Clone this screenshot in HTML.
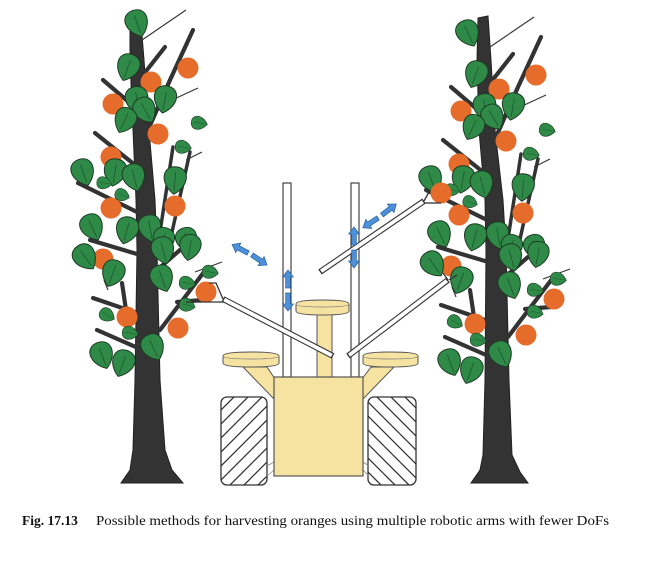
<!DOCTYPE html>
<html>
<head>
<meta charset="utf-8">
<style>
html,body{margin:0;padding:0;background:#fff;}
svg{display:block;}
</style>
</head>
<body>
<svg width="656" height="562" viewBox="0 0 656 562" xmlns="http://www.w3.org/2000/svg">
<defs>
  <g id="lf">
    <path d="M0,13 C-14,4 -13,-12 0,-12 C13,-12 14,4 0,13 Z" fill="#2f8a47" stroke="#1c3a24" stroke-width="0.9"/>
    <path d="M0,-7 L0,10" stroke="#1f5a30" stroke-width="0.8" fill="none"/>
  </g>
  <g id="crown">
    <g stroke="#333" stroke-width="4.2" stroke-linecap="round" fill="none">
      <path d="M148,130 L170,80 L193,30"/>
      <path d="M143,75 L165,47"/>
      <path d="M103,80 L138,110"/>
      <path d="M95,133 L135,165"/>
      <path d="M173,147 L160,232" stroke-width="3.5"/>
      <path d="M190,152 L172,232" stroke-width="3.5"/>
      <path d="M78,183 L137,212"/>
      <path d="M90,240 L137,254"/>
      <path d="M157,270 L180,250"/>
      <path d="M93,298 L137,313"/>
      <path d="M122,283 L126,310"/>
      <path d="M97,330 L138,348"/>
      <path d="M160,330 L207,268"/>
      <path d="M177,302 L203,300"/>
    </g>
    <g stroke="#333" stroke-width="1.1" fill="none">
      <path d="M142,40 L186,10"/>
      <path d="M172,100 L198,88"/>
      <path d="M186,160 L202,152"/>
      <path d="M108,290 L104,280"/>
      <path d="M195,272 L222,262"/>
    </g>
    <g fill="#e66c2b">
      <circle cx="188" cy="68" r="10.5"/>
      <circle cx="151" cy="82" r="10.5"/>
      <circle cx="113" cy="104" r="10.5"/>
      <circle cx="158" cy="134" r="10.5"/>
      <circle cx="111" cy="157" r="10.5"/>
      <circle cx="111" cy="208" r="10.5"/>
      <circle cx="175" cy="206" r="10.5"/>
      <circle cx="103" cy="259" r="10.5"/>
      <circle cx="127" cy="317" r="10.5"/>
      <circle cx="178" cy="328" r="10.5"/>
      <circle cx="206" cy="292" r="10.5"/>
    </g>
    <use href="#lf" transform="translate(128,67) rotate(20) scale(1.1)"/>
    <use href="#lf" transform="translate(137,100) rotate(-10) scale(1.12)"/>
    <use href="#lf" transform="translate(145,110) rotate(-30) scale(1.08)"/>
    <use href="#lf" transform="translate(125,120) rotate(25) scale(1.05)"/>
    <use href="#lf" transform="translate(165,99) rotate(10) scale(1.1)"/>
    <use href="#lf" transform="translate(199,123) rotate(-80) scale(0.65)"/>
    <use href="#lf" transform="translate(183,147) rotate(-80) scale(0.65)"/>
    <use href="#lf" transform="translate(83,172) rotate(-20) scale(1.1)"/>
    <use href="#lf" transform="translate(115,172) rotate(10) scale(1.1)"/>
    <use href="#lf" transform="translate(134,177) rotate(-15) scale(1.1)"/>
    <use href="#lf" transform="translate(175,180) rotate(5) scale(1.1)"/>
    <use href="#lf" transform="translate(104,183) rotate(-80) scale(0.6)"/>
    <use href="#lf" transform="translate(122,195) rotate(-70) scale(0.6)"/>
    <use href="#lf" transform="translate(92,227) rotate(-25) scale(1.1)"/>
    <use href="#lf" transform="translate(127,230) rotate(15) scale(1.1)"/>
    <use href="#lf" transform="translate(150,228) rotate(-10) scale(1.1)"/>
    <use href="#lf" transform="translate(163,240) rotate(20) scale(1.05)"/>
    <use href="#lf" transform="translate(187,240) rotate(-20) scale(1.05)"/>
    <use href="#lf" transform="translate(85,257) rotate(-35) scale(1.1)"/>
    <use href="#lf" transform="translate(113,273) rotate(20) scale(1.1)"/>
    <use href="#lf" transform="translate(163,250) rotate(-15) scale(1.1)"/>
    <use href="#lf" transform="translate(190,247) rotate(10) scale(1.05)"/>
    <use href="#lf" transform="translate(162,278) rotate(-20) scale(1.1)"/>
    <use href="#lf" transform="translate(187,283) rotate(-80) scale(0.65)"/>
    <use href="#lf" transform="translate(210,272) rotate(-80) scale(0.65)"/>
    <use href="#lf" transform="translate(187,305) rotate(-75) scale(0.65)"/>
    <use href="#lf" transform="translate(107,315) rotate(-60) scale(0.65)"/>
    <use href="#lf" transform="translate(130,333) rotate(-80) scale(0.65)"/>
    <use href="#lf" transform="translate(102,355) rotate(-20) scale(1.1)"/>
    <use href="#lf" transform="translate(123,363) rotate(20) scale(1.1)"/>
    <use href="#lf" transform="translate(153,347) rotate(-25) scale(1.1)"/>
  </g>
  <polygon id="ar" points="0,-2.3 11,-2.3 11,-5.3 18,0 11,5.3 11,2.3 0,2.3" fill="#4f91d8" stroke="#2c65a6" stroke-width="0.8"/>
  <clipPath id="wl"><rect x="221" y="397" width="46" height="88" rx="6"/></clipPath>
  <clipPath id="wr"><rect x="368" y="397" width="48" height="88" rx="6"/></clipPath>
</defs>

<rect width="656" height="562" fill="#fff"/>

<!-- Left tree -->
<path d="M130,12 L140,10 L144,60 L149,130 L155,200 L157,250 L160,380 L165,450 L172,470 L183,483 L121,483 L130,470 L133,450 L135,380 L137,250 L136,200 L133,130 L130,60 Z" fill="#333" stroke="#222" stroke-width="1"/>
<use href="#crown"/>
<use href="#lf" transform="translate(137,23) rotate(-20) scale(1.1)"/>

<!-- Right tree -->
<path d="M478,18 L488,16 L491,60 L495,130 L503,200 L506,250 L509,380 L512,455 L520,472 L528,483 L471,483 L480,470 L483,455 L485,380 L486,250 L485,200 L479,130 L477,60 Z" fill="#333" stroke="#222" stroke-width="1"/>
<use href="#crown" transform="translate(348,7)"/>
<circle cx="441" cy="193" r="10.5" fill="#e66c2b"/>
<use href="#lf" transform="translate(468,33) rotate(-25) scale(1.1)"/>

<!-- Robot: wheels -->
<rect x="221" y="397" width="46" height="88" rx="6" fill="#fff"/>
<g clip-path="url(#wl)" stroke="#333" stroke-width="1.3">
  <line x1="215" y1="402" x2="275" y2="342"/>
  <line x1="215" y1="416" x2="275" y2="356"/>
  <line x1="215" y1="430" x2="275" y2="370"/>
  <line x1="215" y1="444" x2="275" y2="384"/>
  <line x1="215" y1="458" x2="275" y2="398"/>
  <line x1="215" y1="472" x2="275" y2="412"/>
  <line x1="215" y1="486" x2="275" y2="426"/>
  <line x1="215" y1="500" x2="275" y2="440"/>
  <line x1="215" y1="514" x2="275" y2="454"/>
  <line x1="215" y1="528" x2="275" y2="468"/>
  <line x1="215" y1="542" x2="275" y2="482"/>
</g>
<rect x="221" y="397" width="46" height="88" rx="6" fill="none" stroke="#333" stroke-width="1.3"/>
<rect x="368" y="397" width="48" height="88" rx="6" fill="#fff"/>
<g clip-path="url(#wr)" stroke="#333" stroke-width="1.3">
  <line x1="362" y1="340" x2="422" y2="400"/>
  <line x1="362" y1="354" x2="422" y2="414"/>
  <line x1="362" y1="368" x2="422" y2="428"/>
  <line x1="362" y1="382" x2="422" y2="442"/>
  <line x1="362" y1="396" x2="422" y2="456"/>
  <line x1="362" y1="410" x2="422" y2="470"/>
  <line x1="362" y1="424" x2="422" y2="484"/>
  <line x1="362" y1="438" x2="422" y2="498"/>
  <line x1="362" y1="452" x2="422" y2="512"/>
  <line x1="362" y1="466" x2="422" y2="526"/>
  <line x1="362" y1="480" x2="422" y2="540"/>
</g>
<rect x="368" y="397" width="48" height="88" rx="6" fill="none" stroke="#333" stroke-width="1.3"/>
<g stroke="#888" stroke-width="0.8">
  <line x1="267" y1="466" x2="274" y2="462"/>
  <line x1="267" y1="476" x2="274" y2="470"/>
  <line x1="363" y1="462" x2="369" y2="466"/>
  <line x1="363" y1="470" x2="369" y2="476"/>
</g>

<!-- poles -->
<rect x="283" y="183" width="8" height="194" fill="#fff" stroke="#444" stroke-width="1.2"/>
<rect x="351" y="183" width="8" height="194" fill="#fff" stroke="#444" stroke-width="1.2"/>

<!-- supports -->
<polygon points="243,367 267,367 275,379 275,400" fill="#f6e3a1" stroke="#555" stroke-width="1"/>
<polygon points="394,367 371,367 362,379 362,400" fill="#f6e3a1" stroke="#555" stroke-width="1"/>
<!-- center column -->
<rect x="317" y="313" width="15" height="65" fill="#f6e3a1" stroke="#555" stroke-width="1"/>
<!-- body -->
<rect x="274" y="377" width="89" height="99" fill="#f6e3a1" stroke="#555" stroke-width="1.2"/>
<!-- discs -->
<path d="M296,304 Q296,300 322.5,300 Q349,300 349,304 L349,311 Q349,315 322.5,315 Q296,315 296,311 Z" fill="#f6e3a1" stroke="#555" stroke-width="1"/>
<path d="M296,304 Q296,307 322.5,307 Q349,307 349,304" fill="none" stroke="#777" stroke-width="0.7"/>
<path d="M223,356 Q223,352 251,352 Q279,352 279,356 L279,363 Q279,367 251,367 Q223,367 223,363 Z" fill="#f6e3a1" stroke="#555" stroke-width="1"/>
<path d="M223,356 Q223,359 251,359 Q279,359 279,356" fill="none" stroke="#777" stroke-width="0.7"/>
<path d="M363,356 Q363,352 390.5,352 Q418,352 418,356 L418,363 Q418,367 390.5,367 Q363,367 363,363 Z" fill="#f6e3a1" stroke="#555" stroke-width="1"/>
<path d="M363,356 Q363,359 390.5,359 Q418,359 418,356" fill="none" stroke="#777" stroke-width="0.7"/>

<!-- arms -->
<g fill="none" stroke-linecap="butt">
  <line x1="223" y1="299" x2="333" y2="356" stroke="#333" stroke-width="6"/>
  <line x1="224.2" y1="299.6" x2="331.8" y2="355.4" stroke="#fff" stroke-width="3.8"/>
  <line x1="348" y1="356" x2="448" y2="280" stroke="#333" stroke-width="6"/>
  <line x1="349.1" y1="355.2" x2="446.9" y2="280.8" stroke="#fff" stroke-width="3.8"/>
  <line x1="320" y1="272" x2="424" y2="201" stroke="#333" stroke-width="6"/>
  <line x1="321.1" y1="271.2" x2="422.9" y2="201.8" stroke="#fff" stroke-width="3.8"/>
</g>
<!-- grippers -->
<g fill="none" stroke="#333" stroke-width="1.3">
  <path d="M223,299 L216,283 L209,283"/>
  <path d="M224,302 L186,302"/>
  <path d="M424,201 L429,192"/>
  <path d="M425,203 L441,203"/>
  <path d="M448,280 L443,273"/>
  <path d="M449,280 L457,275"/>
</g>

<!-- blue arrows -->
<use href="#ar" transform="translate(248,253) rotate(208)"/>
<use href="#ar" transform="translate(252,255) rotate(33.7)"/>
<use href="#ar" transform="translate(288,288) rotate(-90)"/>
<use href="#ar" transform="translate(288,293) rotate(90)"/>
<use href="#ar" transform="translate(354,245) rotate(-90)"/>
<use href="#ar" transform="translate(354,250) rotate(90)"/>
<use href="#ar" transform="translate(378,218) rotate(147)"/>
<use href="#ar" transform="translate(382,215) rotate(-37.6)"/>

<!-- caption -->
<text x="22" y="525" font-family="'Liberation Serif', serif" font-size="13.5" font-weight="bold" fill="#111">Fig. 17.13</text>
<text x="96" y="525" font-family="'Liberation Serif', serif" font-size="13.5" fill="#111" textLength="513" lengthAdjust="spacingAndGlyphs">Possible methods for harvesting oranges using multiple robotic arms with fewer DoFs</text>
</svg>
</body>
</html>
